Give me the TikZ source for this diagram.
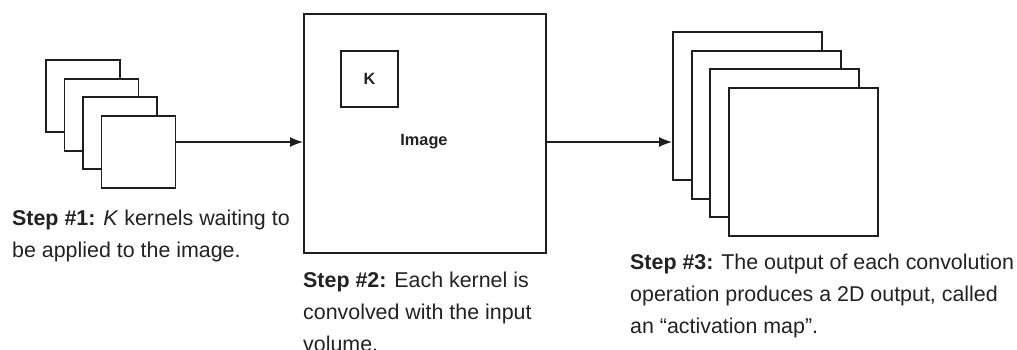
\documentclass[tikz,border=0pt]{standalone}
\usepackage{fontspec}
\setmainfont{Liberation Sans}
\usetikzlibrary{arrows.meta}
\definecolor{ink}{RGB}{30,30,30}
\definecolor{txt}{RGB}{34,34,34}
\tikzset{
  sheet/.style={draw=ink, line width=1.9pt, fill=white, inner sep=0pt},
  kernel/.style={sheet, minimum width=74pt, minimum height=72pt},
  amap/.style={sheet, minimum width=149pt, minimum height=148pt},
  flow/.style={draw=ink, line width=1.5pt, -{Latex[length=13pt,width=10pt]}},
  caption/.style={anchor=base west, align=left, inner sep=0pt, text=txt,
    font=\fontsize{21.4}{32}\selectfont},
}
\begin{document}
\begin{tikzpicture}[x=1pt, y=-1pt]
\useasboundingbox (0,0) rectangle (1017,350);

% stack of kernels
\node[kernel] (k1) at (83,96) {};
\node[kernel] (k2) at (101.5,114.7) {};
\node[kernel] (k3) at (120,133.4) {};
\node[kernel] (k4) at (138.5,152) {};

% input image with one kernel on it
\node[sheet, minimum width=242pt, minimum height=239pt] (img) at (425,133.5) {};
\node[sheet, minimum width=57pt, minimum height=56pt, font=\bfseries\fontsize{16.3}{18}\selectfont, text=txt] (k) at (369.5,79) {K};
\node[font=\bfseries\fontsize{16.3}{18}\selectfont, text=txt, inner sep=0pt] (lbl) at (424,142) {Image};

% stack of activation maps
\node[amap] (a1) at (747.5,106) {};
\node[amap] (a2) at (766.2,124.7) {};
\node[amap] (a3) at (784.9,143.4) {};
\node[amap] (a4) at (803.6,162.1) {};

% connectors
\draw[flow] (k4.east |- lbl) -- (img.west |- lbl);
\draw[flow] (img.east |- lbl) -- (a1.west |- lbl);

% captions (anchored at the baseline of their last line)
\node[caption] (s1) at (12,257) {\textbf{Step \#1:} \textit{K} kernels waiting to\\be applied to the image.};
\node[caption] (s2) at (303,351) {\textbf{Step \#2:} Each kernel is\\convolved with the input\\volume.};
\node[caption] (s3) at (630,333) {\textbf{Step \#3:} The output of each convolution\\operation produces a 2D output, called\\an “activation map”.};
\end{tikzpicture}
\end{document}
